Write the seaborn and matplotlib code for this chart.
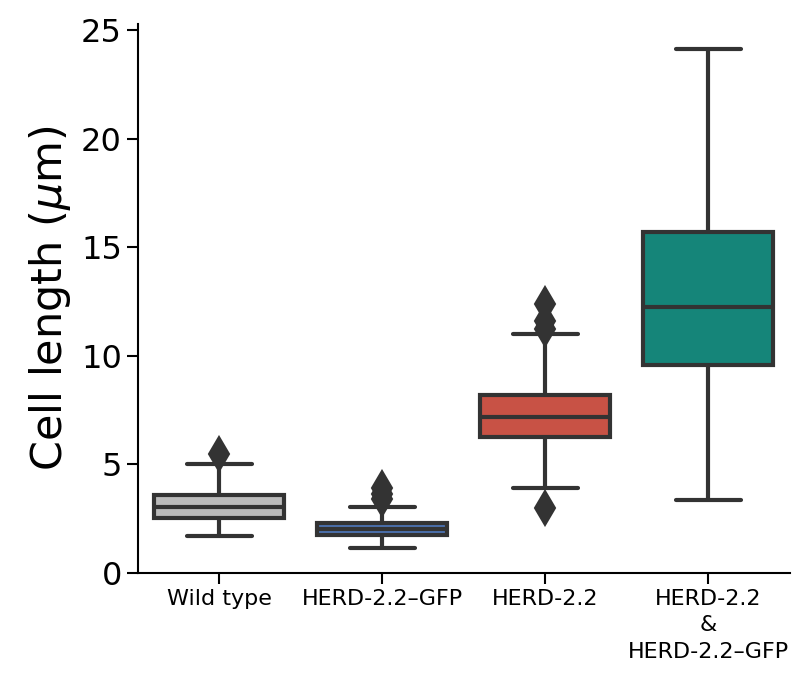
import matplotlib
matplotlib.use("Agg")
import matplotlib.pyplot as plt
import seaborn as sns
import pandas as pd

# Cell length observations per strain (µm)
strains = ["Wild type", "HERD-2.2–GFP", "HERD-2.2", "HERD-2.2\n&\nHERD-2.2–GFP"]
wild_type = [1.7, 2.55, 2.55, 3.05, 3.05, 3.6, 3.6, 5.0, 5.5]
herd_gfp = [1.15, 1.15, 1.15, 1.15, 1.75, 1.75, 1.75, 2.03, 2.03, 2.03,
            2.3, 2.3, 2.3, 3.05, 3.4, 3.65, 3.9]
herd = [3.0, 3.9, 3.9, 3.9, 6.25, 6.25, 6.25, 7.2, 7.2, 7.2,
        8.2, 8.2, 8.2, 11.0, 11.25, 11.6, 12.4]
herd_both = [3.35, 9.6, 12.25, 15.7, 24.15]
colors = ["#bbbbbb", "#4c72b0", "#c85245", "#158579"]

groups = [wild_type, herd_gfp, herd, herd_both]
df = pd.DataFrame({
    "strain": [s for s, g in zip(strains, groups) for _ in g],
    "length": [v for g in groups for v in g],
})

sns.set_style("ticks")
plt.rcParams["font.family"] = ["DejaVu Sans"]
plt.rcParams["text.color"] = "black"
plt.rcParams["axes.labelcolor"] = "black"
plt.rcParams["xtick.color"] = "black"
plt.rcParams["ytick.color"] = "black"
plt.rcParams["axes.edgecolor"] = "black"

fig = plt.figure(figsize=(7.92, 6.75), dpi=100)
ax = fig.add_axes([0.174, 0.151, 0.823, 0.814])

line = "#333333"
sns.boxplot(
    data=df, x="strain", y="length", hue="strain", order=strains,
    hue_order=strains, palette=colors, legend=False, ax=ax,
    width=0.8, linewidth=3.0, linecolor=line, saturation=1,
    flierprops=dict(marker="d", markersize=17, markerfacecolor=line,
                    markeredgecolor=line, markeredgewidth=1.5),
)

ax.set_ylim(0, 25.3)
ax.set_xlim(-0.5, 3.5)
ax.set_yticks([0, 5, 10, 15, 20, 25])
ax.set_xlabel("")
ax.set_ylabel("Cell length ($\\mu$m)", fontsize=31, labelpad=6)
ax.tick_params(axis="y", labelsize=23, length=8, width=1.5)
ax.tick_params(axis="x", labelsize=16, length=8, width=1.5)
for lbl in ax.get_xticklabels():
    lbl.set_linespacing(1.4)
for s in ["left", "bottom"]:
    ax.spines[s].set_linewidth(1.5)
sns.despine(ax=ax)

fig.savefig("out.png", dpi=100)
